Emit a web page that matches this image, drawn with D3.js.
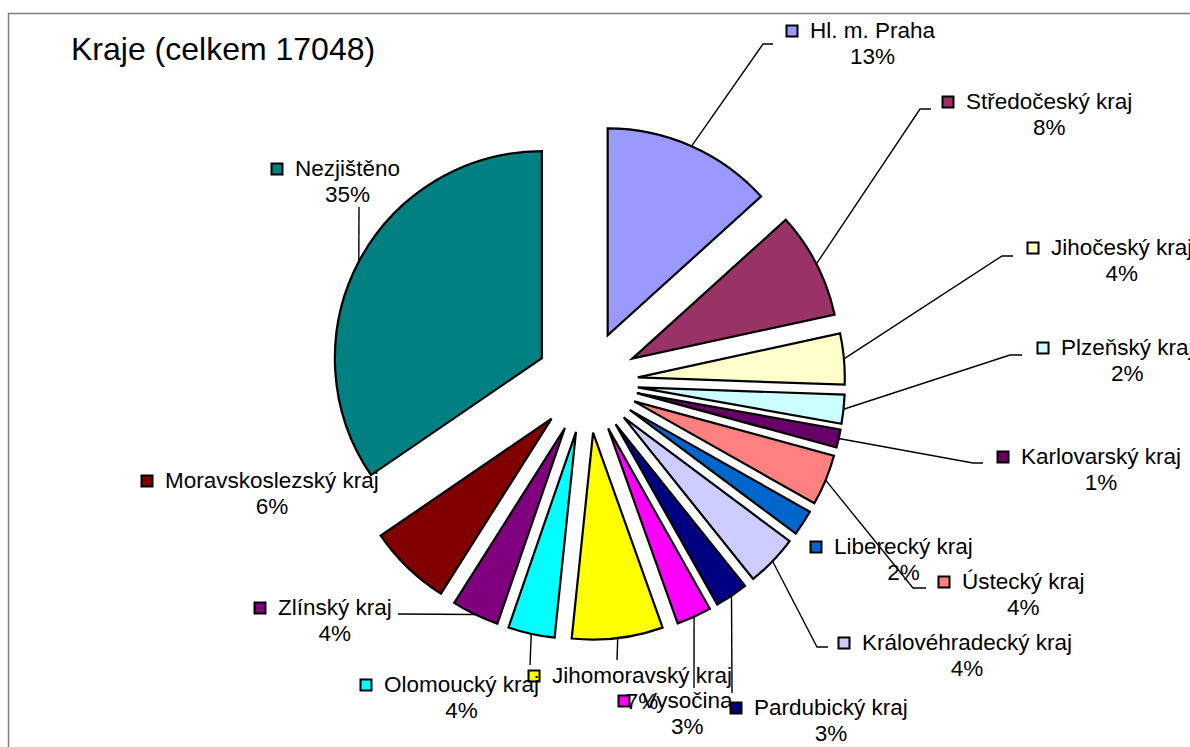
<!DOCTYPE html>
<html>
<head>
<meta charset="utf-8">
<script src="https://cdn.jsdelivr.net/npm/d3@7"></script>
<style>
  body { margin: 0; background: #fff; }
  text { font-family: "Liberation Sans", Arial, sans-serif; fill: #000; }
</style>
</head>
<body>
<div id="chart"></div>
<script>
// Data
const title = "Kraje (celkem 17048)";
const categories = ["Hl. m. Praha", "Středočeský kraj", "Jihočeský kraj", "Plzeňský kraj",
    "Karlovarský kraj", "Ústecký kraj", "Liberecký kraj", "Královéhradecký kraj",
    "Pardubický kraj", "Vysočina", "Jihomoravský kraj", "Olomoucký kraj",
    "Zlínský kraj", "Moravskoslezský kraj", "Nezjištěno"];
const counts = [2265, 1415, 677, 384, 241, 677, 341, 691, 440, 464, 1210, 620, 630, 1103, 5890];
const colors = ["#9999FF", "#993366", "#FFFFCC", "#CCFFFF", "#660066", "#FF8080", "#0066CC",
    "#CCCCFF", "#000080", "#FF00FF", "#FFFF00", "#00FFFF", "#800080", "#800000", "#008080"];

// Layout of labels (key left x, first baseline) and leader line bends
const labelPos = [[786, 38], [942, 109], [1027, 255], [1037, 355], [997, 464], [938, 589],
    [810, 554], [838, 650], [730, 715], [618, 708], [528, 683], [360, 692], [254, 615],
    [141, 488], [271, 176]];
const leaderBends = [
    [[763, 44], [773, 44]],
    [[920, 109], [931, 109]],
    [[1002, 256], [1013, 256]],
    [[1010, 355], [1022, 355]],
    [[973, 463], [983, 463]],
    [[913, 588], [926, 588]],
    null,
    [[817, 647], [828, 647]],
    [[732, 693]],
    [[694, 688]],
    [[617, 660]],
    [[530, 665]],
    [[398, 614]],
    null,
    [[359, 207]]
];

const width = 1190, height = 747;
const cx = 587, cy = 382, radius = 207, explode = 51;

const svg = d3.select("#chart")
    .append("svg")
    .attr("width", width)
    .attr("height", height);

// chart frame
svg.append("rect")
    .attr("x", 8.5).attr("y", 13.5)
    .attr("width", 1300).attr("height", 900)
    .attr("fill", "none")
    .attr("stroke", "#7f7f7f")
    .attr("stroke-width", 1.5);

svg.append("text")
    .attr("x", 71)
    .attr("y", 60)
    .style("font-size", "32px")
    .text(title);

const total = d3.sum(counts);
const data = categories.map((c, i) => ({ name: c, value: counts[i], color: colors[i], i: i }));

const pie = d3.pie().sort(null).value(d => d.value);
const arcs = pie(data);

const arc = d3.arc().innerRadius(0).outerRadius(radius);
const offsetArc = d3.arc().innerRadius(explode).outerRadius(explode);
const edgeArc = d3.arc().innerRadius(radius + explode).outerRadius(radius + explode);

const g = svg.append("g").attr("transform", `translate(${cx},${cy})`);

// Slices, each pushed out along its middle angle
g.selectAll("path.slice")
    .data(arcs)
    .enter()
    .append("path")
    .attr("class", "slice")
    .attr("transform", d => `translate(${offsetArc.centroid(d)})`)
    .attr("d", arc)
    .attr("fill", d => d.data.color)
    .attr("stroke", "#000")
    .attr("stroke-width", 2.2)
    .attr("stroke-linejoin", "miter");

// Leader lines
const line = d3.line();
arcs.forEach(d => {
    const bends = leaderBends[d.data.i];
    if (!bends) return;
    const p = edgeArc.centroid(d);
    const start = [p[0] + cx, p[1] + cy];
    svg.append("path")
        .attr("d", line([start].concat(bends)))
        .attr("fill", "none")
        .attr("stroke", "#000")
        .attr("stroke-width", 1.4);
});

// Labels
arcs.forEach(d => {
    const [lx, ly] = labelPos[d.data.i];
    const lab = svg.append("g");
    lab.append("rect")
        .attr("x", lx + 0.5).attr("y", ly - 13 + 0.5)
        .attr("width", 11).attr("height", 11)
        .attr("fill", d.data.color)
        .attr("stroke", "#000")
        .attr("stroke-width", 2);
    const name = lab.append("text")
        .attr("x", lx + 24)
        .attr("y", ly)
        .style("font-size", "22.5px")
        .text(d.data.name);
    const w = name.node().getComputedTextLength();
    lab.append("text")
        .attr("x", lx + 24 + w / 2)
        .attr("y", ly + 26)
        .attr("text-anchor", "middle")
        .style("font-size", "22.5px")
        .text(Math.round(d.data.value / total * 100) + "%");
});
</script>
</body>
</html>
